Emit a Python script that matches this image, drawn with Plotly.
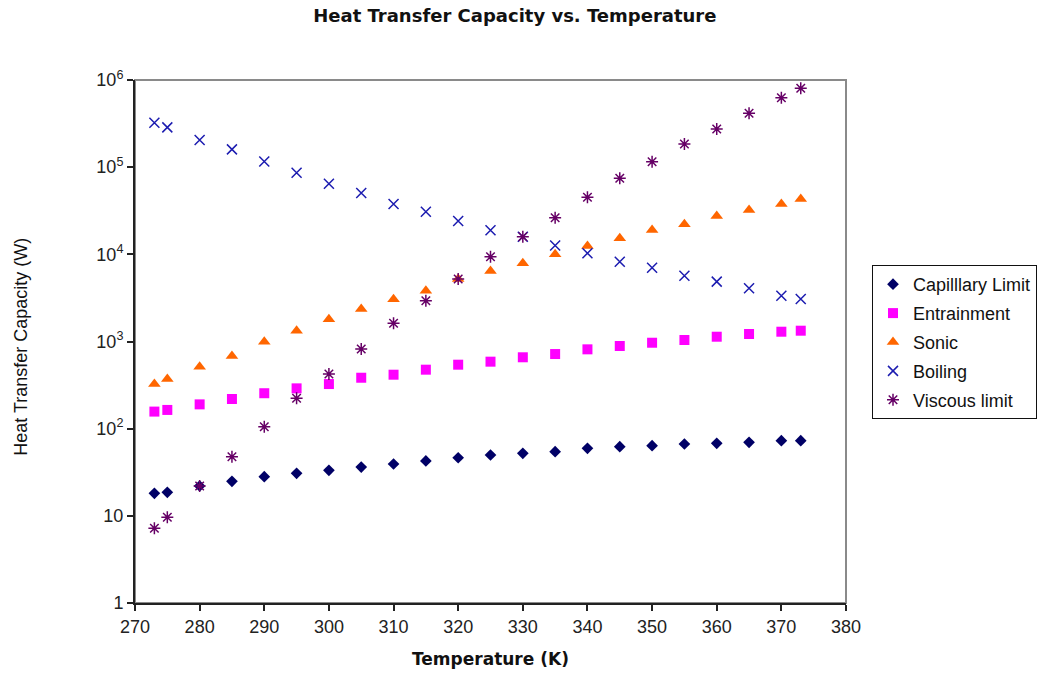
import plotly.graph_objects as go

temperature = [273, 275, 280, 285, 290, 295, 300, 305, 310, 315, 320, 325,
               330, 335, 340, 345, 350, 355, 360, 365, 370, 373]

capillary = [18.1, 18.6, 22.0, 24.9, 28.1, 30.7, 33.3, 36.3, 39.3, 42.6, 46.4, 49.9,
             52.2, 54.4, 59.5, 62.1, 63.8, 66.7, 67.9, 69.7, 72.8, 72.8]
entrainment = [157, 164, 190, 219, 255, 290, 325, 384, 416, 475, 542, 587,
               659, 718, 813, 888, 968, 1040, 1135, 1219, 1295, 1330]
sonic = [325, 371, 514, 682, 995, 1331, 1798, 2360, 3050, 3830, 5210, 6440,
         7890, 10000, 12470, 15280, 19010, 22100, 27500, 32300, 37800, 43100]
boiling = [324000, 286000, 205000, 160000, 116000, 86400, 64600, 50500, 37800, 30800, 24100, 18900,
           15900, 12600, 10300, 8240, 7030, 5690, 4860, 4080, 3350, 3070]
viscous = [7.19, 9.62, 22.0, 47.7, 105, 223, 424, 820, 1617, 2940, 5210, 9400,
           15900, 26300, 45100, 74500, 115600, 184500, 274000, 415000, 627000, 803000]

series_names = ["Capilllary Limit", "Entrainment", "Sonic", "Boiling", "Viscous limit"]

y_tick_vals = [1, 10, 100, 1000, 10000, 100000, 1000000]
y_tick_text = ["1", "10", "10<sup>2</sup>", "10<sup>3</sup>", "10<sup>4</sup>",
               "10<sup>5</sup>", "10<sup>6</sup>"]

styles = [
    dict(symbol="diamond", size=9, color="#000066", line=dict(width=0)),
    dict(symbol="square", size=10, color="#FF00FF", line=dict(width=0)),
    dict(symbol="triangle-up", size=11, color="#FF6600", line=dict(width=0)),
    dict(symbol="x-thin", size=10, color="#1C1CB0", line=dict(width=1.5, color="#1C1CB0")),
    dict(symbol="asterisk-open", size=10, color="#660066", line=dict(width=1.5, color="#660066")),
]

fig = go.Figure()
for i, (name, vals) in enumerate(zip(series_names,
                                     [capillary, entrainment, sonic, boiling, viscous])):
    fig.add_trace(go.Scatter(
        x=temperature, y=vals, mode="markers", name=name,
        marker=styles[i], legendgroup=f"g{i}",
    ))

# gray frame around plot area (top/right visible)
fig.add_shape(type="rect", xref="paper", yref="paper", x0=0, y0=0, x1=1, y1=1,
              line=dict(color="#8a8a8a", width=2), layer="below")

fig.update_layout(
    width=1038, height=674,
    margin=dict(l=135, r=192, t=80, b=71, autoexpand=False),
    paper_bgcolor="white", plot_bgcolor="white",
    font=dict(family="Liberation Sans, Arial, sans-serif", size=18, color="#111111"),
    title=dict(text="<b>Heat Transfer Capacity vs. Temperature</b>",
               font=dict(family="DejaVu Sans, sans-serif", size=18, color="#111111"),
               x=0.496, xanchor="center", y=0.976, yanchor="middle"),
    xaxis=dict(range=[270, 380], dtick=10, tick0=270, showgrid=False, zeroline=False,
               showline=True, linecolor="#222222", linewidth=2,
               ticks="outside", ticklen=6, tickcolor="#222222", tickwidth=1.5,
               tickfont=dict(size=18, color="#222222")),
    yaxis=dict(type="log", range=[0, 6], tickvals=y_tick_vals, ticktext=y_tick_text,
               showgrid=False, zeroline=False,
               showline=True, linecolor="#222222", linewidth=2,
               ticks="outside", ticklen=6, tickcolor="#222222", tickwidth=1.5,
               tickfont=dict(size=18, color="#222222")),
    legend=dict(x=(1037 - 135) / 711, xanchor="right", y=(603 - 265) / 523, yanchor="top",
                bordercolor="#111111", borderwidth=1, bgcolor="white",
                font=dict(size=18, color="#111111"), tracegroupgap=2.5,
                traceorder="grouped"),
    showlegend=True,
)

fig.add_annotation(text="<b>Temperature (K)</b>", xref="paper", yref="paper",
                   x=0.5, y=0, yshift=-56, xanchor="center", yanchor="middle",
                   showarrow=False,
                   font=dict(family="DejaVu Sans, sans-serif", size=17, color="#111111"))
fig.add_annotation(text="Heat Transfer Capacity (W)", xref="paper", yref="paper",
                   x=0, y=0.49, xshift=-114, xanchor="center", yanchor="middle",
                   textangle=-90, showarrow=False,
                   font=dict(size=18, color="#111111"))

fig.write_html("out.html")
